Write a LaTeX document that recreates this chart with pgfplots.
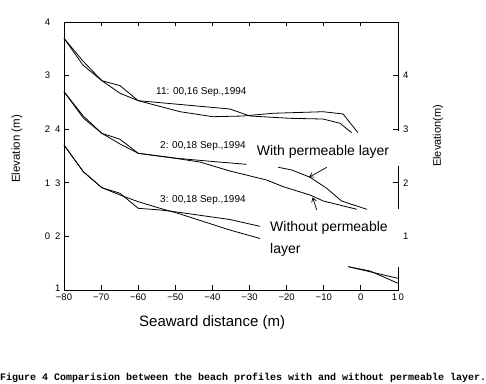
\documentclass[border=0pt]{standalone}
\usepackage{fontspec}
\setmainfont{Liberation Sans}
\newfontfamily\capfont{Liberation Mono}
\usepackage{pgfplots}
\pgfplotsset{compat=1.18}
\usetikzlibrary{arrows.meta}
\begin{document}
\begin{tikzpicture}[prof/.style={black, line width=0.8bp, mark=none}]
\useasboundingbox (0,0) rectangle (486bp,384bp);
\begin{axis}[
 at={(64bp,94bp)}, anchor=south west,
 scale only axis, width=334bp, height=268bp,
 xmin=-80, xmax=10, ymin=0, ymax=5,
 clip=false,
 axis line style={line width=0.8bp},
 tick align=inside,
 major tick length=4.5bp,
 every tick/.style={black, line width=0.8bp},
 xtick={-80,-70,...,10},
 xticklabels={−80,−70,−60,−50,−40,−30,−20,−10,0,1\kern1.5bp 0},
 xticklabel style={font=\fontsize{9.5bp}{11bp}\selectfont, yshift=-0.5bp},
 ytick={0,1,2,3,4,5},
 yticklabels={\raisebox{3bp}{1},0\kern5bp 2,1\kern5bp 3,2\kern5bp 4,3\kern5bp\phantom{0},4\kern5bp\phantom{0}},
 yticklabel style={font=\fontsize{9.5bp}{11bp}\selectfont},
]
% profile 11
\addplot[prof] coordinates {(-80,4.696) (-74.9,4.272) (-69.8,3.905) (-64.9,3.812) (-60,3.532) (-48.7,3.326) (-39.85,3.233) (-31.8,3.246) (-23.7,3.297) (-10.2,3.326) (-4.8,3.284) (-0.8,2.935)};
\addplot[prof] coordinates {(-80,4.696) (-74.9,4.198) (-69.8,3.905) (-64.9,3.670) (-60,3.532) (-35.3,3.377) (-29.9,3.246) (-19.1,3.203) (-10.2,3.190) (-5.6,3.110) (-2.5,2.935)};
% profile 2
\addplot[prof] coordinates {(-80,3.700) (-74.8,3.246) (-69.8,2.923) (-64.9,2.812) (-60,2.550) (-49.6,2.457) (-39.85,2.397) (-30.8,2.345)};
\addplot[prof] coordinates {(-22.25,2.289) (-18.6,2.239) (-13.7,2.103) (-9.2,1.897) (-5.2,1.660) (1.6,1.506)};
\addplot[prof] coordinates {(-80,3.700) (-74.8,3.209) (-69.8,2.923) (-64.9,2.724) (-60,2.550) (-49.6,2.453) (-43.4,2.388) (-35.3,2.220) (-25.4,2.052) (-20.9,1.927) (-13.7,1.772) (-10.1,1.660) (-1.1,1.506)};
% profile 3
\addplot[prof] coordinates {(-80,2.705) (-74.8,2.207) (-69.8,1.909) (-64.9,1.804) (-60,1.524) (-54.1,1.493) (-49.6,1.455) (-35.3,1.315) (-27.2,1.188)};
\addplot[prof] coordinates {(-80,2.705) (-74.8,2.207) (-69.8,1.909) (-64.9,1.772) (-60,1.647) (-54.1,1.524) (-49.6,1.437) (-35.3,1.119) (-27.2,0.961)};
\addplot[prof] coordinates {(-3.4,0.435) (10,0.218)};
\addplot[prof] coordinates {(-3.4,0.435) (2.5,0.354) (10,0.125)};
% arrows
\draw[line width=0.7bp, -{Straight Barb[length=4bp,width=5bp]}] (axis cs:-9.2,2.289) -- (axis cs:-13.98,2.103);
\draw[line width=0.7bp, -{Straight Barb[length=4bp,width=5bp]}] (axis cs:-11.9,1.493) -- (axis cs:-13.0,1.729);
\end{axis}
% gaps in the right spine
\fill[white] (392bp,218bp) rectangle (401bp,252.5bp);
\fill[white] (392bp,117.3bp) rectangle (401bp,174.7bp);
% right axis labels
\begin{scope}[every node/.style={font=\fontsize{9.5bp}{11bp}\selectfont, anchor=west, inner sep=0pt}]
\node at (403bp,308.4bp) {4};
\node at (403bp,254.8bp) {3};
\node at (403bp,201.2bp) {2};
\node at (403bp,147.6bp) {1};
\end{scope}
% date labels
\begin{scope}[every node/.style={font=\fontsize{10bp}{12bp}\selectfont, anchor=base west, inner sep=0pt}]
\node at (156bp,289bp) {11: 00,16 Sep.,1994};
\node at (160bp,235bp) {2: 00,18 Sep.,1994};
\node at (160bp,181.7bp) {3: 00,18 Sep.,1994};
\end{scope}
\begin{scope}[every node/.style={font=\fontsize{14bp}{16bp}\selectfont, anchor=base west, inner sep=0pt}]
\node at (256.7bp,228.7bp) {With permeable layer};
\node at (270bp,152.3bp) {Without permeable};
\node at (270bp,130.7bp) {layer};
\end{scope}
\node[font=\fontsize{15bp}{18bp}\selectfont, anchor=base west, inner sep=0pt] at (139bp,57.3bp) {Seaward distance (m)};
\node[font=\fontsize{11.5bp}{14bp}\selectfont, rotate=90, inner sep=0pt] at (17bp,235bp) {Elevation (m)};
\node[font=\fontsize{11bp}{13bp}\selectfont, rotate=90, inner sep=0pt] at (438bp,248bp) {Elevation(m)};
\node[font=\capfont\bfseries\fontsize{10bp}{12bp}\selectfont, anchor=base west, inner sep=0pt] at (0bp,3.5bp) {Figure 4 Comparision between the beach profiles with and without permeable layer.};
\end{tikzpicture}
\end{document}
